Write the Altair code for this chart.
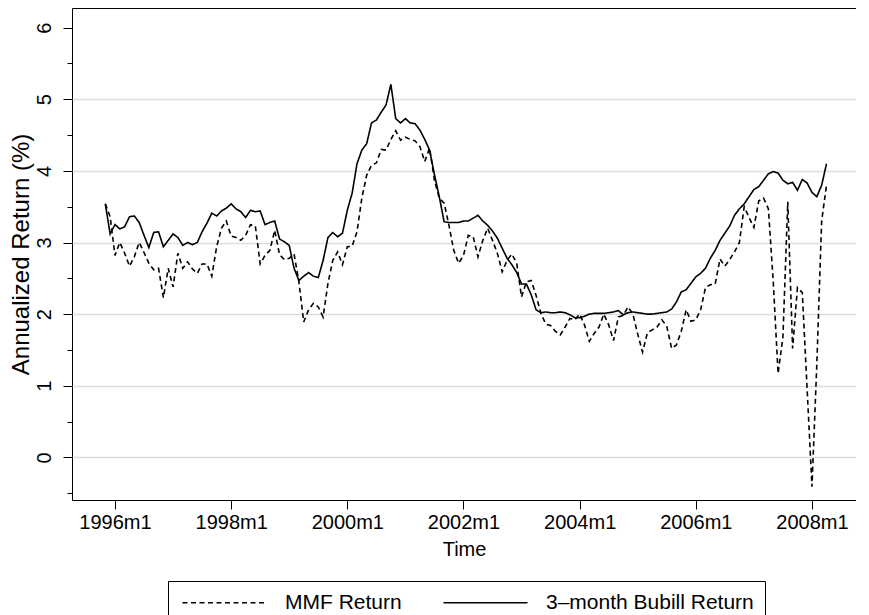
import altair as alt
import pandas as pd

# ---------------- data (monthly series, first observation 1995m11) ----------------
FIRST_YEAR = 1995
FIRST_MONTH = 11

mmf_return = [
    3.54, 3.36, 2.82, 3.00, 2.85, 2.67, 2.80, 3.00, 2.86, 2.71,
    2.62, 2.64, 2.23, 2.64, 2.38, 2.85, 2.64, 2.73, 2.63, 2.57,
    2.70, 2.70, 2.53, 2.94, 3.20, 3.30, 3.09, 3.07, 3.03, 3.10,
    3.25, 3.23, 2.70, 2.82, 2.89, 3.17, 2.83, 2.76, 2.78, 2.84,
    2.45, 1.89, 2.06, 2.15, 2.10, 1.96, 2.43, 2.75, 2.87, 2.69,
    2.94, 2.95, 3.15, 3.62, 3.94, 4.08, 4.11, 4.30, 4.29, 4.44,
    4.56, 4.43, 4.47, 4.44, 4.42, 4.34, 4.13, 4.32, 3.87, 3.62,
    3.55, 3.24, 2.89, 2.71, 2.82, 3.10, 3.08, 2.80, 3.03, 3.20,
    3.03, 2.85, 2.59, 2.75, 2.84, 2.71, 2.24, 2.45, 2.47, 2.26,
    2.01, 1.86, 1.84, 1.76, 1.71, 1.82, 1.94, 1.92, 2.00, 1.85,
    1.62, 1.73, 1.82, 2.00, 1.85, 1.63, 1.96, 1.98, 2.10, 2.00,
    1.72, 1.47, 1.74, 1.78, 1.82, 1.92, 1.83, 1.52, 1.57, 1.76,
    2.06, 1.90, 1.92, 2.06, 2.37, 2.41, 2.42, 2.77, 2.67, 2.76,
    2.87, 3.00, 3.50, 3.35, 3.21, 3.58, 3.62, 3.47, 2.45, 1.17,
    1.68, 3.57, 1.52, 2.37, 2.30, 0.95, -0.41, 1.30, 3.30, 3.80,
]

bubill_return = [
    3.54, 3.12, 3.25, 3.19, 3.22, 3.36, 3.37, 3.28, 3.10, 2.93,
    3.14, 3.15, 2.94, 3.03, 3.12, 3.07, 2.96, 3.00, 2.97, 3.00,
    3.15, 3.27, 3.41, 3.37, 3.44, 3.48, 3.54, 3.47, 3.43, 3.35,
    3.45, 3.43, 3.44, 3.25, 3.28, 3.30, 3.05, 3.01, 2.96, 2.64,
    2.47, 2.53, 2.58, 2.53, 2.51, 2.75, 3.07, 3.14, 3.08, 3.13,
    3.45, 3.69, 4.10, 4.29, 4.38, 4.67, 4.71, 4.82, 4.92, 5.21,
    4.73, 4.67, 4.73, 4.67, 4.66, 4.57, 4.44, 4.29, 3.95, 3.64,
    3.29, 3.28, 3.28, 3.28, 3.30, 3.30, 3.34, 3.38, 3.30, 3.24,
    3.16, 3.06, 2.92, 2.78, 2.69, 2.58, 2.42, 2.42, 2.27, 2.06,
    2.02, 2.03, 2.02, 2.02, 2.03, 2.02, 1.99, 1.95, 1.95, 1.97,
    2.00, 2.01, 2.01, 2.01, 2.02, 2.03, 2.05, 1.99, 2.02, 2.03,
    2.02, 2.01, 2.00, 2.00, 2.01, 2.02, 2.03, 2.07, 2.17, 2.31,
    2.34, 2.43, 2.52, 2.57, 2.64, 2.78, 2.89, 3.03, 3.13, 3.23,
    3.38, 3.47, 3.54, 3.64, 3.74, 3.78, 3.87, 3.96, 3.99, 3.97,
    3.87, 3.82, 3.84, 3.73, 3.88, 3.83, 3.70, 3.64, 3.80, 4.10,
]

series_names = ["MMF Return", "3\u2013month Bubill Return"]
x_tick_years = [1996, 1998, 2000, 2002, 2004, 2006, 2008]
y_tick_values = [-0.5, 0, 0.5, 1, 1.5, 2, 2.5, 3, 3.5, 4, 4.5, 5, 5.5, 6]
x_domain = [1995.26, 2008.758]
y_domain = [-0.596, 6.275]

# ---------------- table ----------------
n = len(mmf_return)
t = [FIRST_YEAR + (FIRST_MONTH - 1 + k) / 12 for k in range(n)]
df = pd.DataFrame({
    "t": t + t,
    "value": mmf_return + bubill_return,
    "series": [series_names[0]] * n + [series_names[1]] * n,
    "order": list(range(n)) + list(range(n)),
})

FONT = "Liberation Sans"
FS = 20

x_axis = alt.Axis(
    values=x_tick_years,
    labelExpr="datum.value + 'm1'",
    title="Time",
    grid=False,
    domain=False,
    tickSize=9,
    tickColor="black",
    tickWidth=1,
    labelFontSize=FS,
    labelPadding=3,
    labelColor="black",
    titleFontSize=FS,
    titleFontWeight="normal",
    titleColor="black",
    titlePadding=7,
    labelFlush=False,
)

y_axis = alt.Axis(
    values=y_tick_values,
    labelExpr="datum.value % 1 === 0 ? format(datum.value, 'd') : ''",
    title="Annualized Return (%)",
    grid=True,
    gridColor="#dedede",
    gridWidth=1.3,
    gridOpacity={"condition": {"test": "datum.value % 1 !== 0 || datum.value >= 6", "value": 0}, "value": 1},
    domain=False,
    tickSize={"condition": {"test": "datum.value % 1 !== 0", "value": 5}, "value": 9},
    tickColor="black",
    tickWidth=1,
    labelAngle=270,
    labelAlign="center",
    labelBaseline="bottom",
    labelFontSize=FS,
    labelPadding=9,
    labelColor="black",
    titleFontSize=24,
    titleFontWeight="normal",
    titleColor="black",
    titlePadding=1,
    labelFlush=False,
)

legend = alt.Legend(
    title=None,
    orient="none",
    legendX=96,
    legendY=573,
    direction="horizontal",
    columns=2,
    columnPadding=38,
    symbolType="M-1,0H11",
    symbolSize=196,
    symbolStrokeWidth=1.6,
    symbolStrokeColor="black",
    symbolFillColor="transparent",
    labelFontSize=21,
    labelColor="black",
    labelLimit=400,
    labelOffset=85,
    strokeColor="black",
    padding=11,
    fillColor="white",
)

chart = (
    alt.Chart(df)
    .mark_line(strokeWidth=1.6, color="black")
    .encode(
        x=alt.X("t:Q", scale=alt.Scale(domain=x_domain, nice=False, zero=False), axis=x_axis),
        y=alt.Y("value:Q", scale=alt.Scale(domain=y_domain, nice=False, zero=False), axis=y_axis),
        detail="series:N",
        order="order:Q",
        strokeDash=alt.StrokeDash(
            "series:N",
            scale=alt.Scale(domain=series_names, range=[[5, 3.5], [1, 0]]),
            legend=legend,
        ),
    )
    .properties(
        width=784,
        height=492,
        autosize=alt.AutoSizeParams(type="none"),
        padding={"left": 64, "top": 0, "right": 0, "bottom": 115},
    )
    .configure(font=FONT, background="white")
    .configure_view(stroke="black", strokeWidth=1)
)

chart.save("out.html", embed_options={"renderer": "svg", "actions": False})
